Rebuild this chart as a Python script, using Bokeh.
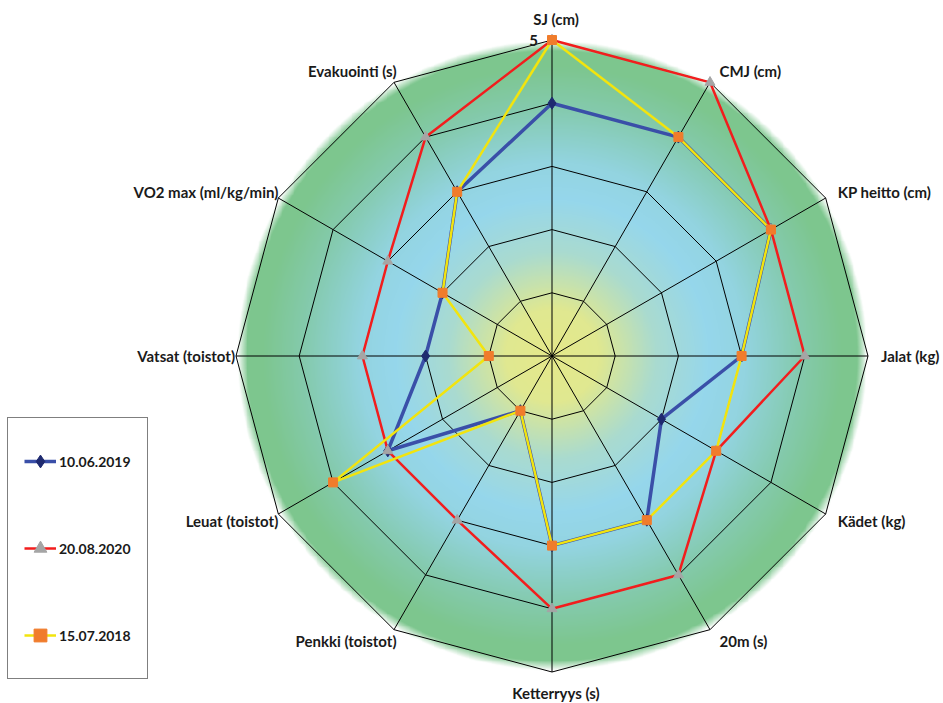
import numpy as np
from bokeh.plotting import figure
from bokeh.models import Range1d, Legend, LegendItem, ColumnDataSource
from bokeh.embed import file_html
from bokeh.resources import INLINE
from bokeh.core.properties import value

# ---------------- data ----------------
categories = ["SJ (cm)", "CMJ (cm)", "KP heitto (cm)", "Jalat (kg)", "Kädet (kg)",
              "20m (s)", "Ketterryys (s)", "Penkki (toistot)", "Leuat (toistot)",
              "Vatsat (toistot)", "VO2 max (ml/kg/min)", "Evakuointi (s)"]
series_names = ["10.06.2019", "20.08.2020", "15.07.2018"]
values_2019 = [4, 4, 4, 3, 2, 3, 3, 1, 3, 2, 2, 3]
values_2020 = [5, 5, 4, 4, 3, 4, 4, 3, 3, 3, 3, 4]
values_2018 = [5, 4, 4, 3, 3, 3, 3, 1, 4, 1, 2, 3]
levels = [1, 2, 3, 4, 5]
tick_labels = ["5"]

# ---------------- geometry ----------------
W, H = 943, 703
cx_px, cy_px = 551.5, 355.5
R_px = 316.0
max_level = levels[-1]
k = R_px / max_level  # px per unit

p = figure(width=W, height=H, output_backend="svg", toolbar_location=None,
           x_axis_type=None, y_axis_type=None, min_border=0,
           x_range=Range1d(-cx_px / k, (W - cx_px) / k),
           y_range=Range1d(-(H - cy_px) / k, cy_px / k))
p.outline_line_color = None
p.grid.visible = False
p.background_fill_color = "white"
p.border_fill_color = "white"

n = len(categories)
theta = np.deg2rad(90 - np.arange(n) * 360.0 / n)
cosv, sinv = np.cos(theta), np.sin(theta)

# ---------------- radial gradient background ----------------
N = 700
E = 5.1
g = np.linspace(-E, E, N)
X, Y = np.meshgrid(g, g)
r = np.sqrt(X ** 2 + Y ** 2)
t = r / 4.94
stops_t = [0.0, 0.15, 0.33, 0.5, 0.62, 0.8, 0.93, 1.2]
stops_c = [(229, 233, 138), (224, 232, 145), (170, 219, 208), (150, 215, 236),
           (147, 212, 224), (132, 202, 172), (125, 198, 142), (125, 198, 142)]
img = np.zeros((N, N, 4), dtype=np.uint8)
for ci in range(3):
    img[:, :, ci] = np.interp(t, stops_t, [c[ci] for c in stops_c]).astype(np.uint8)
alpha = np.clip((4.98 - r) / 0.15, 0, 1)
img[:, :, 3] = (alpha * 255).astype(np.uint8)
img32 = img.view(dtype=np.uint32).reshape((N, N))
p.image_rgba(image=[img32], x=-E, y=-E, dw=2 * E, dh=2 * E)

# ---------------- grid ----------------
ring_xs = [list(lv * np.append(cosv, cosv[0])) for lv in levels]
ring_ys = [list(lv * np.append(sinv, sinv[0])) for lv in levels]
p.multi_line(ring_xs, ring_ys, line_color="black", line_width=1)
p.segment(x0=np.zeros(n), y0=np.zeros(n), x1=max_level * cosv, y1=max_level * sinv,
          line_color="black", line_width=1)

# ---------------- series ----------------
styles = [
    dict(line_color="#3a4fa8", line_width=3.5, marker="diamond", m_color="#1f2a70", size=12),
    dict(line_color="#f21d1d", line_width=2.5, marker="triangle", m_color="#a5a5a5", size=10),
    dict(line_color="#f2e40e", line_width=2.5, marker="square", m_color="#f07c2c", size=9),
]
legend_items = []
for name, vals, st in zip(series_names, [values_2019, values_2020, values_2018], styles):
    v = np.array(vals, dtype=float)
    xs = v * cosv
    ys = v * sinv
    lr = p.line(np.append(xs, xs[0]), np.append(ys, ys[0]),
                line_color=st["line_color"], line_width=st["line_width"])
    sr = p.scatter(xs, ys, marker=st["marker"], size=st["size"],
                   fill_color=st["m_color"], line_color=st["m_color"])
    legend_items.append(LegendItem(label=name, renderers=[lr, sr]))

# ---------------- labels ----------------
font = "Lato"
lab_x = max_level * cosv
lab_y = max_level * sinv
x_off = 6 + 7 * cosv
y_off = -13 * sinv
for align, mask in [("left", cosv > 0.1), ("right", cosv < -0.1), ("center", np.abs(cosv) <= 0.1)]:
    idx = np.where(mask)[0]
    yo = y_off[idx].copy()
    xo = x_off[idx].copy()
    if align == "center":
        yo = yo - 8 * np.sign(sinv[idx])
        xo = xo - 2
    src = ColumnDataSource(dict(x=lab_x[idx], y=lab_y[idx],
                                text=[categories[i] for i in idx],
                                xo=xo, yo=yo))
    p.text(x="x", y="y", text="text", x_offset="xo", y_offset="yo", source=src,
           text_align=align, text_baseline="middle",
           text_font=value(font), text_font_style="bold",
           text_font_size="15px", text_color="#1a1a1a")

p.text(x=[0], y=[max_level], text=tick_labels, x_offset=-14, text_align="right",
       text_baseline="middle", text_font=value(font), text_font_style="bold",
       text_font_size="15px", text_color="#1a1a1a")

# ---------------- legend ----------------
legend = Legend(items=legend_items, location=(7, 24), orientation="vertical",
                padding=16, spacing=33, glyph_width=32, glyph_height=54,
                label_height=54, label_standoff=3,
                label_text_font=font, label_text_font_style="bold",
                label_text_font_size="14px", label_text_color="#1a1a1a",
                border_line_color="black", border_line_width=1,
                background_fill_color="white", background_fill_alpha=1.0,
                margin=0)
p.add_layout(legend, "center")

open("out.html", "w").write(file_html(p, INLINE))
